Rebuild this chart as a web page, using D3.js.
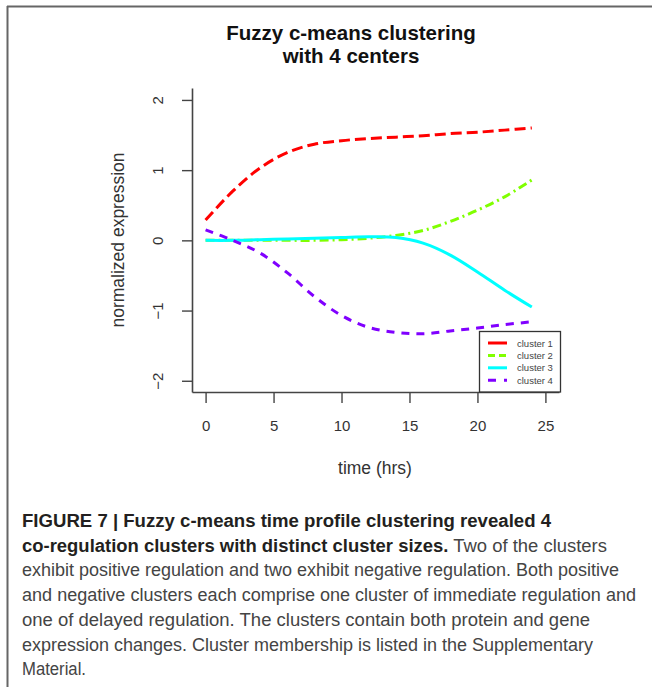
<!DOCTYPE html>
<html>
<head>
<meta charset="utf-8">
<script src="https://cdn.jsdelivr.net/npm/d3@7"></script>
<style>
  html, body { margin: 0; padding: 0; background: #fff; }
  svg { display: block; }
</style>
</head>
<body>
<svg id="fig" width="652" height="687"></svg>
<script>
// Time points (hours) and cluster centroid profiles
const hours = [0, 2, 4, 6, 8, 10, 12, 14, 16, 18, 20, 22, 24];
const cluster1 = [0.29, 0.70, 1.03, 1.25, 1.37, 1.42, 1.45, 1.47, 1.49, 1.52, 1.54, 1.57, 1.60];
const cluster2 = [0.00, 0.00, 0.00, 0.00, 0.00, 0.01, 0.03, 0.07, 0.14, 0.27, 0.43, 0.62, 0.86];
const cluster3 = [0.00, 0.00, 0.01, 0.02, 0.03, 0.04, 0.05, 0.04, -0.04, -0.21, -0.45, -0.71, -0.95];
const cluster4 = [0.15, 0.00, -0.18, -0.46, -0.80, -1.07, -1.24, -1.31, -1.33, -1.29, -1.25, -1.20, -1.16];

const seriesNames = ["cluster 1", "cluster 2", "cluster 3", "cluster 4"];
const seriesColors = ["#FF0000", "#80FF00", "#00FFFF", "#8000FF"];
const seriesDash = ["11 5", "9 4 2 4", null, "8 7"];
const legendDash = [null, "7 4", null, "8 8 3 100"];

const xTicks = [0, 5, 10, 15, 20, 25];
const yTicks = [-2, -1, 0, 1, 2];

const titleLines = ["Fuzzy c-means clustering", "with 4 centers"];
const xTitle = "time (hrs)";
const yTitle = "normalized expression";

const captionLines = [
  [{b: true, t: "FIGURE 7 | Fuzzy c-means time profile clustering revealed 4"}],
  [{b: true, t: "co-regulation clusters with distinct cluster sizes."}, {b: false, t: " Two of the clusters"}],
  [{b: false, t: "exhibit positive regulation and two exhibit negative regulation. Both positive"}],
  [{b: false, t: "and negative clusters each comprise one cluster of immediate regulation and"}],
  [{b: false, t: "one of delayed regulation. The clusters contain both protein and gene"}],
  [{b: false, t: "expression changes. Cluster membership is listed in the Supplementary"}],
  [{b: false, t: "Material."}]
];
const captionWidths = [529, 585, 597, 614, 568, 571, 64];

const series = [cluster1, cluster2, cluster3, cluster4].map((vals, i) => ({
  name: seriesNames[i],
  color: seriesColors[i],
  dash: seriesDash[i],
  legendDash: legendDash[i],
  points: hours.map((h, j) => ({x: h, y: vals[j]}))
}));

const svg = d3.select("#fig");
const font = "'Liberation Sans', Arial, Helvetica, sans-serif";

// Page frame (top and left rules)
svg.append("line").attr("x1", 7).attr("x2", 652).attr("y1", 6.5).attr("y2", 6.5)
  .attr("stroke", "#666").attr("stroke-width", 2);
svg.append("line").attr("x1", 7.5).attr("x2", 7.5).attr("y1", 6).attr("y2", 687)
  .attr("stroke", "#666").attr("stroke-width", 2);

// Scales
const x = d3.scaleLinear().domain([-1, 26]).range([192, 559]);
const y = d3.scaleLinear().domain([-2.16, 2.17]).range([392, 88]);

// Title
svg.append("g").selectAll("text").data(titleLines).join("text")
  .attr("x", 351).attr("y", (d, i) => 40 + i * 23)
  .attr("text-anchor", "middle")
  .attr("font-family", font).attr("font-weight", "bold").attr("font-size", 20.5)
  .attr("fill", "#111")
  .text(d => d);

// Axes
const axisColor = "#444";
const gx = svg.append("g").attr("transform", "translate(0,392)")
  .call(d3.axisBottom(x).tickValues(xTicks).tickSize(11).tickSizeOuter(0).tickPadding(17));
const gy = svg.append("g").attr("transform", "translate(192,0)")
  .call(d3.axisLeft(y).tickValues(yTicks).tickSize(10).tickSizeOuter(0)
    .tickFormat(d => d < 0 ? "\u2212" + Math.abs(d) : String(d)));

[gx, gy].forEach(g => {
  g.select(".domain").attr("stroke", axisColor).attr("stroke-width", 1.6);
  g.selectAll(".tick line").attr("stroke", axisColor).attr("stroke-width", 1.4);
  g.selectAll(".tick text").attr("font-family", font).attr("font-size", 15).attr("fill", "#333");
});
gx.selectAll(".tick text").attr("dy", "0.71em");
gy.selectAll(".tick text")
  .attr("x", null).attr("dy", null)
  .attr("text-anchor", "middle")
  .attr("transform", "translate(-29,0) rotate(-90)");

// Axis titles
svg.append("text").attr("x", 375).attr("y", 474)
  .attr("text-anchor", "middle").attr("font-family", font).attr("font-size", 17.5)
  .attr("fill", "#333").text(xTitle);
svg.append("text").attr("transform", "translate(124,240) rotate(-90)")
  .attr("text-anchor", "middle").attr("font-family", font).attr("font-size", 17.5)
  .attr("fill", "#333").text(yTitle);

// Cluster profiles
const line = d3.line().x(d => x(d.x)).y(d => y(d.y)).curve(d3.curveCatmullRom.alpha(0.5));
svg.append("g").selectAll("path").data(series).join("path")
  .attr("d", d => line(d.points))
  .attr("fill", "none")
  .attr("stroke", d => d.color)
  .attr("stroke-width", 3)
  .attr("stroke-dasharray", d => d.dash);

// Legend
const lg = svg.append("g");
lg.append("rect").attr("x", 479.5).attr("y", 331.5).attr("width", 81).attr("height", 60.5)
  .attr("fill", "#fff").attr("stroke", "#333").attr("stroke-width", 1.3);
const rows = lg.selectAll("g.row").data(series).join("g").attr("class", "row")
  .attr("transform", (d, i) => `translate(0,${343 + i * 12.4})`);
rows.append("line").attr("x1", 488).attr("x2", 507).attr("y1", 0).attr("y2", 0)
  .attr("stroke", d => d.color).attr("stroke-width", 3)
  .attr("stroke-dasharray", d => d.legendDash);
rows.append("text").attr("x", 517).attr("y", 3.5)
  .attr("font-family", font).attr("font-size", 9.5).attr("fill", "#444")
  .text(d => d.name);

// Caption
const cap = svg.append("g");
captionLines.forEach((parts, i) => {
  const t = cap.append("text")
    .attr("x", 22).attr("y", 527 + i * 24.7)
    .attr("font-family", font).attr("font-size", 17.5)
    .attr("textLength", captionWidths[i]).attr("lengthAdjust", "spacingAndGlyphs");
  parts.forEach(p => {
    t.append("tspan")
      .attr("font-weight", p.b ? "bold" : "normal")
      .attr("fill", p.b ? "#231f20" : "#444")
      .text(p.t);
  });
});
</script>
</body>
</html>
